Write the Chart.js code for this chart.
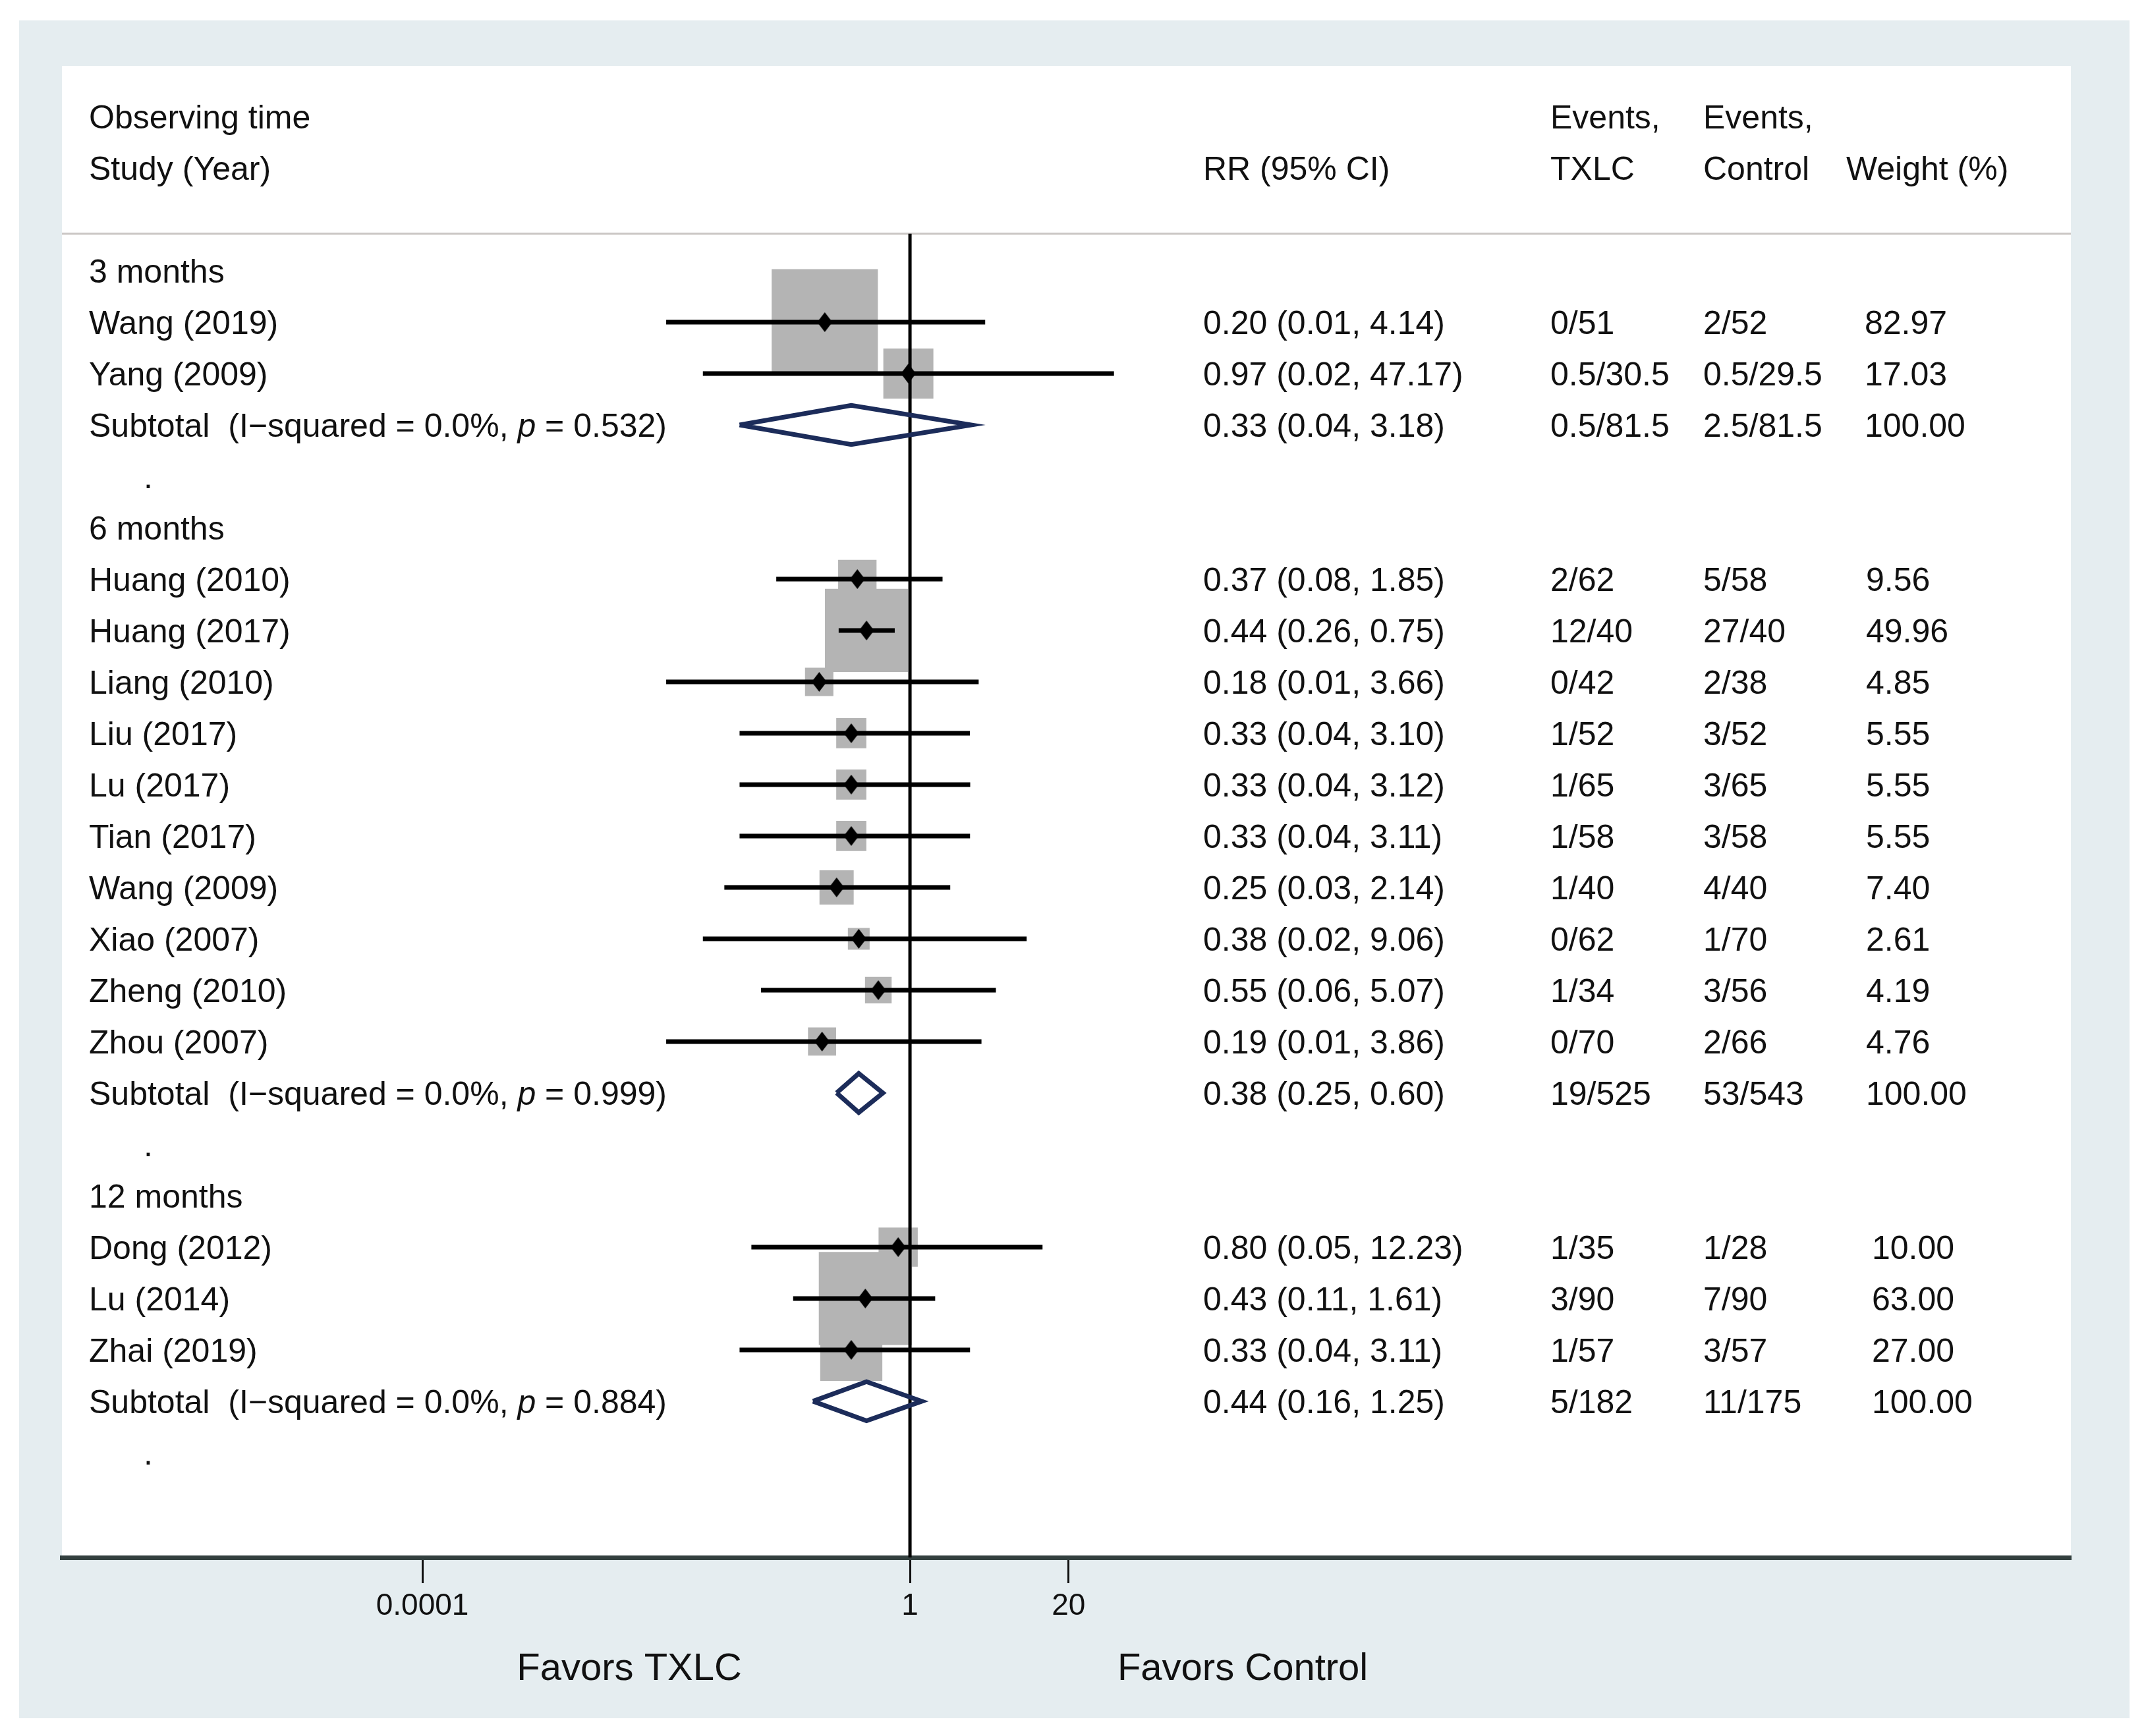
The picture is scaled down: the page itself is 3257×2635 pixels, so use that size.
<!DOCTYPE html>
<html>
<head>
<meta charset="utf-8">
<title>Forest plot</title>
<script src="https://cdn.jsdelivr.net/npm/chart.js@4.4.1/dist/chart.umd.min.js"></script>
<style>
  html, body { margin: 0; padding: 0; background: #ffffff; }
  canvas { display: block; }
</style>
</head>
<body>
<canvas id="forest" width="3257" height="2635"></canvas>
<script>
// ---- data ----
const groups = ['3 months', '6 months', '12 months'];
const studies = ['Wang (2019)', 'Yang (2009)',
  'Huang (2010)', 'Huang (2017)', 'Liang (2010)', 'Liu (2017)', 'Lu (2017)',
  'Tian (2017)', 'Wang (2009)', 'Xiao (2007)', 'Zheng (2010)', 'Zhou (2007)',
  'Dong (2012)', 'Lu (2014)', 'Zhai (2019)'];
const studyGroup = [0, 0, 1, 1, 1, 1, 1, 1, 1, 1, 1, 1, 2, 2, 2];
const rr = [0.20, 0.97, 0.37, 0.44, 0.18, 0.33, 0.33, 0.33, 0.25, 0.38, 0.55, 0.19, 0.80, 0.43, 0.33];
const lower = [0.01, 0.02, 0.08, 0.26, 0.01, 0.04, 0.04, 0.04, 0.03, 0.02, 0.06, 0.01, 0.05, 0.11, 0.04];
const upper = [4.14, 47.17, 1.85, 0.75, 3.66, 3.10, 3.12, 3.11, 2.14, 9.06, 5.07, 3.86, 12.23, 1.61, 3.11];
const eventsTxlc = ['0/51', '0.5/30.5', '2/62', '12/40', '0/42', '1/52', '1/65', '1/58', '1/40', '0/62', '1/34', '0/70', '1/35', '3/90', '1/57'];
const eventsControl = ['2/52', '0.5/29.5', '5/58', '27/40', '2/38', '3/52', '3/65', '3/58', '4/40', '1/70', '3/56', '2/66', '1/28', '7/90', '3/57'];
const weights = [82.97, 17.03, 9.56, 49.96, 4.85, 5.55, 5.55, 5.55, 7.40, 2.61, 4.19, 4.76, 10.00, 63.00, 27.00];

const subRR = [0.33, 0.38, 0.44];
const subLower = [0.04, 0.25, 0.16];
const subUpper = [3.18, 0.60, 1.25];
const subI2 = ['0.0', '0.0', '0.0'];
const subP = ['0.532', '0.999', '0.884'];
const subTxlc = ['0.5/81.5', '19/525', '5/182'];
const subControl = ['2.5/81.5', '53/543', '11/175'];
const subWeight = [100.00, 100.00, 100.00];

const tickValues = [0.0001, 1, 20];
const tickLabels = ['0.0001', '1', '20'];
const nullValue = 1;

// ---- row layout ----
const groupRow = [], studyRow = [], subRow = [], gapRow = [];
let r = 0;
groups.forEach((g, gi) => {
  groupRow.push(r++);
  studyGroup.forEach((sg, i) => { if (sg === gi) studyRow[i] = r++; });
  subRow.push(r++);
  gapRow.push(r++);
});

const FONT = '"Liberation Sans", Arial, Helvetica, sans-serif';
const INK = '#111111';
const NAVY = '#1c2c5a';
const BOX = '#b4b4b4';

function diamondMark(w, h) {
  const c = document.createElement('canvas');
  c.width = w; c.height = h;
  const g = c.getContext('2d');
  g.fillStyle = '#000000';
  g.beginPath();
  g.moveTo(w / 2, 0); g.lineTo(w, h / 2); g.lineTo(w / 2, h); g.lineTo(0, h / 2);
  g.closePath();
  g.fill();
  return c;
}

const ciSets = studies.map((s, i) => ({
  data: [{ x: lower[i], y: studyRow[i] }, { x: upper[i], y: studyRow[i] }],
  showLine: true, borderColor: '#000000', borderWidth: 7, borderCapStyle: 'butt',
  pointRadius: 0, order: 1
}));

const diamondHalf = 0.38;
const subSets = subRR.map((v, k) => ({
  data: [
    { x: subLower[k], y: subRow[k] },
    { x: v, y: subRow[k] - diamondHalf },
    { x: subUpper[k], y: subRow[k] },
    { x: v, y: subRow[k] + diamondHalf },
    { x: subLower[k], y: subRow[k] }
  ],
  showLine: true, borderColor: NAVY, borderWidth: 7, borderJoinStyle: 'miter',
  pointRadius: 0, fill: false, order: 1
}));

const sepRow = -0.72;

const frame = {
  id: 'frame',
  beforeDraw(chart) {
    const { ctx, chartArea: a } = chart;
    ctx.save();
    ctx.fillStyle = '#ffffff';
    ctx.fillRect(0, 0, chart.width, chart.height);
    ctx.fillStyle = '#e5edf0';
    ctx.fillRect(29, 31, 3203, 2577);
    ctx.fillStyle = '#ffffff';
    ctx.fillRect(a.left, a.top, a.right - a.left, a.bottom - a.top);
    const ys = chart.scales.y.getPixelForValue(sepRow);
    ctx.strokeStyle = '#c9c5c3';
    ctx.lineWidth = 3;
    ctx.beginPath();
    ctx.moveTo(a.left, ys);
    ctx.lineTo(a.right, ys);
    ctx.stroke();
    ctx.restore();
  },
  afterDraw(chart) {
    const { ctx } = chart;
    const y = chart.scales.y;
    const x = chart.scales.x;
    const colLabel = 135, colRR = 1826, colTx = 2353, colCo = 2585, colWHead = 2802;
    const colW = [2830, 2832, 2841];
    const nudge = 4;
    ctx.save();
    ctx.fillStyle = INK;
    ctx.textBaseline = 'middle';
    ctx.textAlign = 'left';
    ctx.font = '50px ' + FONT;
    const put = (t, px, row) => ctx.fillText(t, px, y.getPixelForValue(row) + nudge);

    // header
    put('Observing time', colLabel, -3);
    put('Study (Year)', colLabel, -2);
    put('RR (95% CI)', colRR, -2);
    put('Events,', colTx, -3);
    put('TXLC', colTx, -2);
    put('Events,', colCo, -3);
    put('Control', colCo, -2);
    put('Weight (%)', colWHead, -2);

    const ci = (a, b, c) => a.toFixed(2) + ' (' + b.toFixed(2) + ', ' + c.toFixed(2) + ')';

    groups.forEach((g, k) => {
      put(g, colLabel, groupRow[k]);
      // subtotal line with italic p
      const py = y.getPixelForValue(subRow[k]) + nudge;
      const first = 'Subtotal  (I\u2212squared = ' + subI2[k] + '%, ';
      ctx.font = '50px ' + FONT;
      ctx.fillText(first, colLabel, py);
      let cx = colLabel + ctx.measureText(first).width;
      ctx.font = 'italic 50px ' + FONT;
      ctx.fillText('p', cx, py);
      cx += ctx.measureText('p').width;
      ctx.font = '50px ' + FONT;
      ctx.fillText(' = ' + subP[k] + ')', cx, py);
      put(ci(subRR[k], subLower[k], subUpper[k]), colRR, subRow[k]);
      put(subTxlc[k], colTx, subRow[k]);
      put(subControl[k], colCo, subRow[k]);
      put(subWeight[k].toFixed(2), colW[k], subRow[k]);
      put('.', 218, gapRow[k]);
    });

    studies.forEach((s, i) => {
      put(s, colLabel, studyRow[i]);
      put(ci(rr[i], lower[i], upper[i]), colRR, studyRow[i]);
      put(eventsTxlc[i], colTx, studyRow[i]);
      put(eventsControl[i], colCo, studyRow[i]);
      put(weights[i].toFixed(2), colW[studyGroup[i]], studyRow[i]);
    });

    // favours labels under the axis
    ctx.font = '58px ' + FONT;
    ctx.textAlign = 'center';
    const x1 = x.getPixelForValue(nullValue);
    ctx.fillText('Favors TXLC', x1 - 426, 2534);
    ctx.fillText('Favors Control', x1 + 505, 2534);
    ctx.restore();
  }
};

new Chart(document.getElementById('forest'), {
  type: 'scatter',
  data: {
    datasets: [
      {
        data: studies.map((s, i) => ({ x: rr[i], y: studyRow[i] })),
        pointStyle: diamondMark(23, 30), pointRadius: 12, order: 0
      },
      ...ciSets,
      ...subSets,
      {
        data: [{ x: nullValue, y: sepRow }, { x: nullValue, y: 25.04 }],
        showLine: true, borderColor: '#000000', borderWidth: 5, pointRadius: 0, order: 2
      },
      {
        data: studies.map((s, i) => ({ x: rr[i], y: studyRow[i] })),
        pointStyle: 'rect',
        pointRadius: c => (5.4 + 17.1 * Math.sqrt(weights[c.dataIndex])) / Math.SQRT2,
        backgroundColor: BOX, borderWidth: 0, order: 3
      }
    ]
  },
  options: {
    responsive: false,
    devicePixelRatio: 1,
    animation: false,
    events: [],
    layout: { autoPadding: false, padding: { left: 94, right: 114, top: 100, bottom: 0 } },
    plugins: { legend: { display: false }, tooltip: { enabled: false } },
    scales: {
      x: {
        type: 'logarithmic',
        min: 1.104e-7,
        max: 3.34e9,
        afterBuildTicks: s => { s.ticks = tickValues.map(v => ({ value: v })); },
        afterFit: s => { s.height = 271; },
        ticks: {
          callback: (v, i) => tickLabels[i],
          autoSkip: false, maxRotation: 0, padding: 8,
          color: INK, font: { family: FONT, size: 46 }
        },
        grid: {
          drawOnChartArea: false, drawTicks: true,
          tickLength: 39, tickWidth: 3, tickColor: INK
        },
        border: { display: true, color: '#33403f', width: 7 }
      },
      y: {
        type: 'linear',
        min: -3.987,
        max: 25.04,
        reverse: true,
        display: false
      }
    }
  },
  plugins: [frame]
});
</script>
</body>
</html>
